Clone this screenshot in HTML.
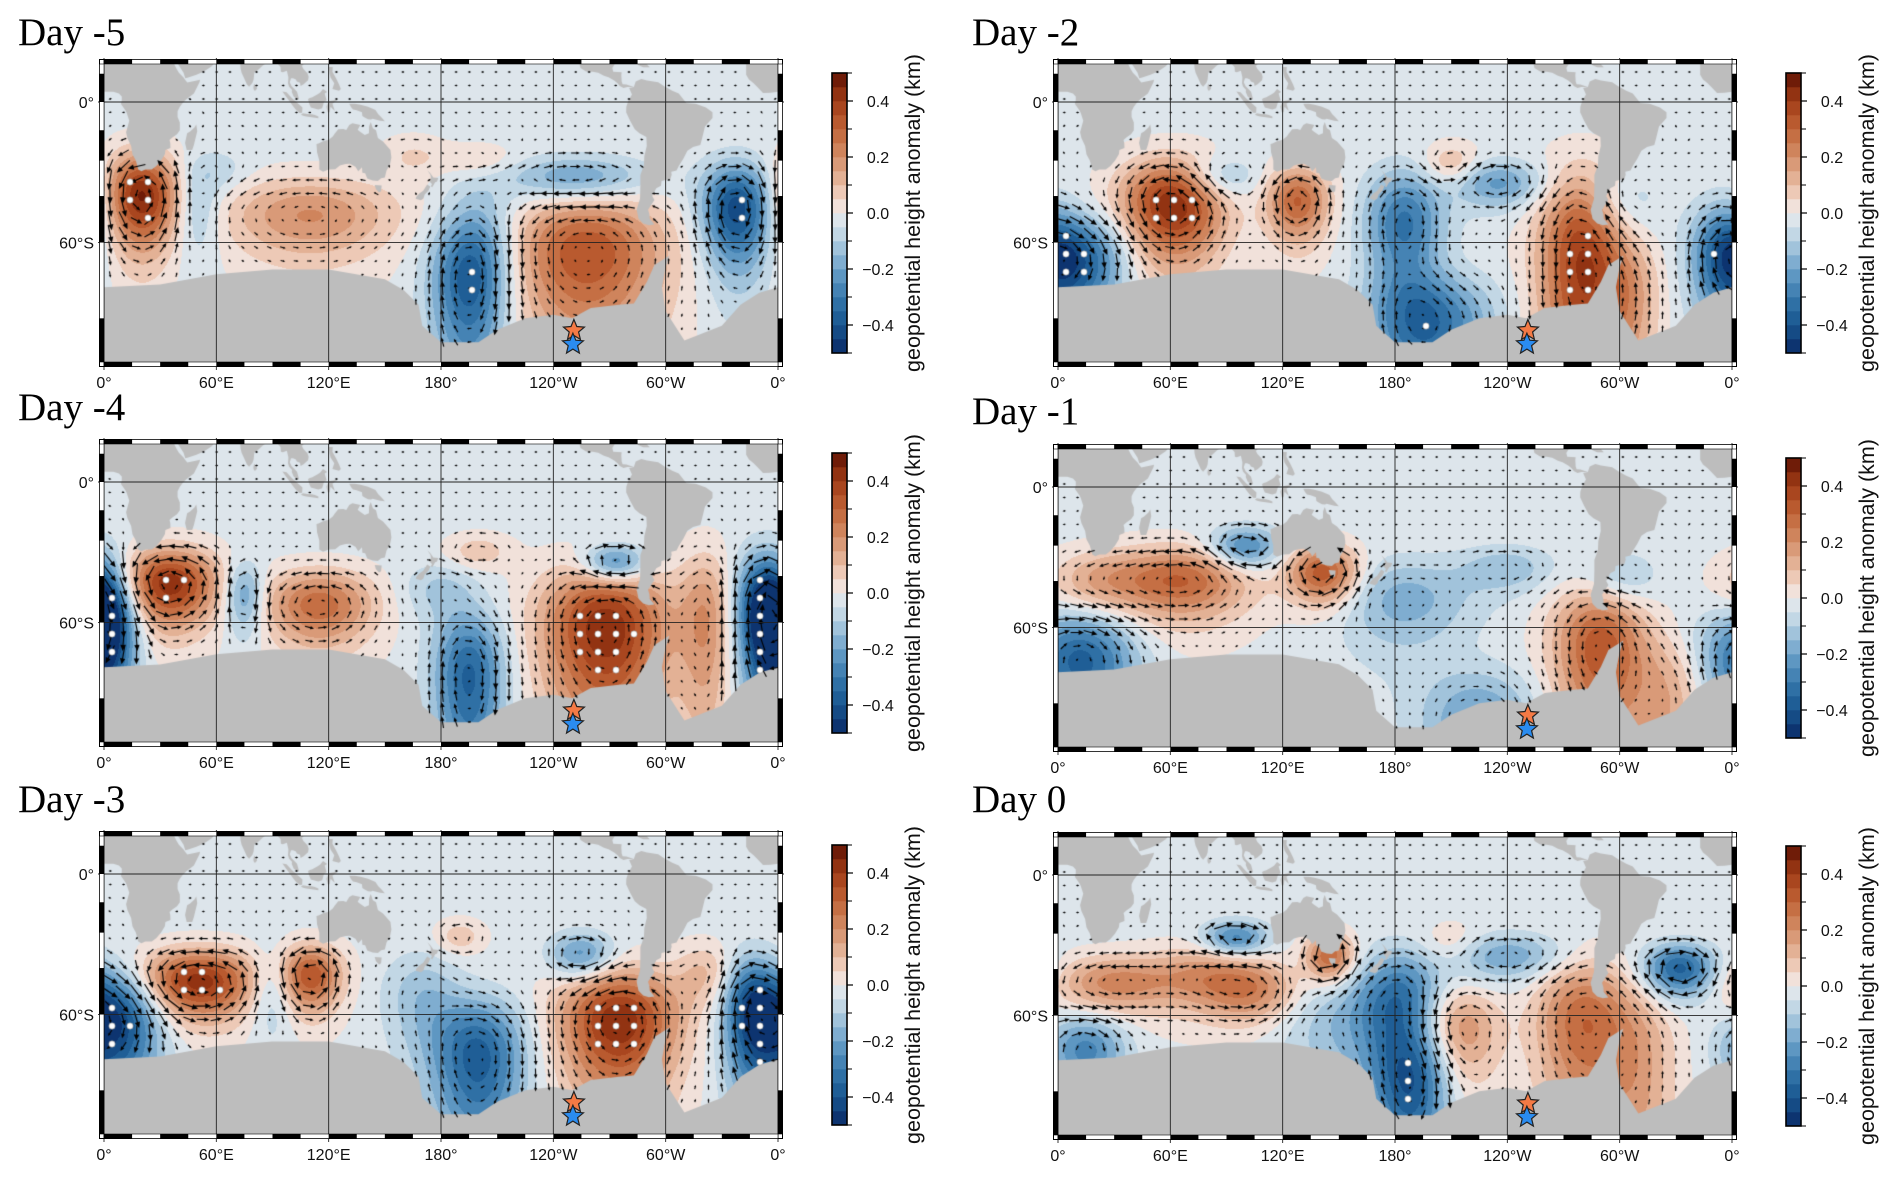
<!DOCTYPE html>
<html><head><meta charset="utf-8">
<style>
html,body{margin:0;padding:0;background:#fff;}
body{width:1892px;height:1177px;position:relative;overflow:hidden;}
#c,#s{position:absolute;left:0;top:0;}
</style></head>
<body>
<canvas id="c" width="1892" height="1177"></canvas>
<svg id="s" width="1892" height="1177" xmlns="http://www.w3.org/2000/svg"></svg>
<script>
// ---- data: anomaly centres [lon, lat, amplitude(km), spreadLon, spreadLat] ----
const blobsDayM5 = [[20,-45,0.47,9,9],[50,-50,-0.12,6,8],[110,-52,0.22,22,7],[195,-70,-0.32,10,7],[200,-57,-0.15,10,9],[258,-63,0.36,20,9],[252,-38,-0.2,18,5],[338,-50,-0.42,9,9],[165,-28,0.07,8,5],[200,-30,0.07,10,4],[60,-35,-0.07,8,5]];
const blobsDayM4 = [[35,-48,0.45,12,7],[0,-62,-0.4,8,8],[355,-55,-0.42,8,10],[75,-52,-0.22,5,6],[115,-55,0.3,14,6],[195,-72,-0.35,9,7],[268,-62,0.46,16,10],[273,-40,-0.3,8,4],[322,-60,0.2,7,12],[200,-35,0.1,8,4],[180,-50,-0.1,10,5]];
const blobsDayM3 = [[5,-62,-0.46,12,8],[50,-50,0.45,15,6],[90,-52,-0.15,6,7],[110,-48,0.36,8,6],[200,-70,-0.36,12,7],[275,-62,0.46,15,8],[255,-40,-0.22,8,5],[345,-58,-0.28,7,9],[322,-47,0.12,8,6],[190,-32,0.1,6,4],[170,-55,-0.12,10,8]];
const blobsDayM2 = [[62,-48,0.47,13,9],[128,-47,0.32,8,7],[210,-32,0.13,7,5],[185,-55,-0.3,10,10],[10,-65,-0.36,12,6],[85,-38,-0.16,10,5],[280,-65,0.42,11,14],[235,-40,-0.2,12,5],[200,-76,-0.3,15,4],[355,-62,-0.2,8,8],[300,-47,-0.1,10,6],[305,-72,0.15,8,6]];
const blobsDayM1 = [[65,-45,0.32,18,7],[100,-31,-0.26,9,5],[142,-42,0.36,9,6],[12,-68,-0.36,14,6],[185,-52,-0.16,18,8],[20,-45,0.12,12,6],[290,-65,0.36,12,9],[300,-45,-0.12,10,6],[225,-78,-0.2,15,4],[328,-75,0.16,10,6],[240,-40,-0.12,12,5]];
const blobsDay0 = [[30,-50,0.23,15,5],[80,-48,0.2,15,6],[105,-53,0.2,12,5],[95,-32,-0.26,8,4],[145,-40,0.32,6,5],[183,-55,-0.25,10,9],[190,-75,-0.3,10,5],[160,-62,-0.15,20,8],[215,-64,0.23,10,6],[280,-62,0.3,12,10],[310,-72,0.16,10,10],[240,-40,-0.18,15,5],[15,-68,-0.26,10,4],[210,-35,0.08,8,5],[332,-45,-0.36,9,5]];
// ---- colour scale ----
const cbLevels = [-0.5,-0.45,-0.4,-0.35,-0.3,-0.25,-0.2,-0.15,-0.1,-0.05,0,0.05,0.1,0.15,0.2,0.25,0.3,0.35,0.4,0.45,0.5];
const cbColors = ['#0d3470','#154b85','#1f5e96','#2f70a5','#4583b4','#5e97c2','#7fadd0','#a1c3db','#c2d7e5','#dde5eb','#f1e1da','#edc9b6','#e3b195','#d99a78','#cf845c','#c56f44','#b95a2f','#a9461f','#923312','#6f1c08'];
const cbTickValues = [0.4,0.2,0.0,-0.2,-0.4];
const cbTickLabels = ['0.4','0.2','0.0','\u22120.2','\u22120.4'];
const lonTicks = [0,60,120,180,240,300,360];
const lonLabels = ['0\u00b0','60\u00b0E','120\u00b0E','180\u00b0','120\u00b0W','60\u00b0W','0\u00b0'];
const latTicks = [0,-60];
const latLabels = ['0\u00b0','60\u00b0S'];
const starLon = 251, starLatOrange = -76.6, starLatBlue = -78.2;
const SPREAD_LON = 1.45, SPREAD_LAT = 1.35;

const panels = [
 {title:'Day -5', x0:104, eq:102, tb:45, cbx:832, blobs:blobsDayM5, key:'day-minus-5'},
 {title:'Day -4', x0:104, eq:482, tb:420, cbx:832, blobs:blobsDayM4, key:'day-minus-4'},
 {title:'Day -3', x0:104, eq:874, tb:812, cbx:832, blobs:blobsDayM3, key:'day-minus-3'},
 {title:'Day -2', x0:1058, eq:102, tb:45, cbx:1786, blobs:blobsDayM2, key:'day-minus-2'},
 {title:'Day -1', x0:1058, eq:487, tb:424, cbx:1786, blobs:blobsDayM1, key:'day-minus-1'},
 {title:'Day 0', x0:1058, eq:875, tb:812, cbx:1786, blobs:blobsDay0, key:'day-0'}
];

// ---- land (lon 0..360, lat) ----
const land = [
 [[0,20],[0,5.5],[5,5.5],[8,4.5],[9.5,3],[9.5,1],[9,-1],[11.5,-4.5],[12.2,-6],[13.5,-10],[11.8,-16],[12.5,-19],[14.5,-23],[15.2,-27],[17,-30],[18.3,-34],[20,-34.8],[22,-34],[25.5,-34],[28,-32.5],[30.5,-30],[32.5,-27],[32.8,-25],[35.5,-24],[35.4,-21.5],[35,-20],[36.5,-18.7],[39,-17],[40.5,-15],[40.5,-11],[39.3,-8],[39.3,-5],[40.5,-2.5],[42,-0.5],[44,1.5],[48,4.5],[51,10.5],[51.3,11.8],[49,11.3],[44.5,10.4],[43.3,11.8],[42.5,13],[40,15.5],[38.5,18],[37.5,20]],
 [[39.5,20],[42.5,15.5],[43.4,12.7],[45,13],[49,14.3],[52.2,15.7],[55,17.2],[57.7,19],[58.5,20]],
 [[68.5,20],[72.8,20],[72.9,18],[73.5,15.5],[74.8,12.8],[76.3,9.5],[77.5,8.1],[78.2,8.9],[79.3,10.3],[79.9,12],[80.3,15.6],[82.4,17],[84.8,19.2],[86,20]],
 [[79.8,8],[80.2,9.8],[81.2,8.5],[81.8,7.2],[80.6,5.9],[79.9,6.8]],
 [[92,20],[92.8,20],[94.3,18.5],[94.5,16],[95.5,15.8],[97.7,16.5],[98.5,13],[98.3,10],[98.8,8.3],[100.4,6.5],[100.3,5.3],[101.3,3],[103.4,1.3],[104.2,1.5],[103.5,4],[103.1,5.5],[101.8,6.8],[100.2,8.4],[99.2,10.5],[99.9,12.7],[101,12.7],[102.5,12],[103,11],[104.7,10.3],[105,8.6],[106.6,9.5],[109,11.6],[109.3,13.4],[108.7,15.3],[106.5,17.5],[105.7,19],[106.7,20]],
 [[95.3,5.6],[97.5,5.2],[100.3,2.2],[103.8,-1],[106,-3],[105.8,-5.8],[104.5,-5.9],[102.4,-4],[100.9,-2.2],[99.3,0.2],[97.2,2.9]],
 [[105.2,-6.8],[106.2,-6],[108.5,-6.4],[111,-6.5],[112.6,-6.9],[114.5,-7.8],[114.5,-8.7],[111,-8.2],[108,-7.8],[106.4,-7.4]],
 [[109,1.5],[109.6,-1],[110.5,-3],[114.5,-4],[116.5,-3.3],[117.5,0],[118.9,1],[117.8,4.5],[119.2,5.3],[117,7],[115.4,5],[113.9,4],[111.3,2.6],[109.6,2]],
 [[118.8,-2.6],[119.5,-5.5],[120.5,-5.5],[121,-2.5],[123.3,-4.8],[122,-1],[125,1.3],[120.5,0.5],[119.8,0]],
 [[120,18.5],[122.2,18.5],[122,16],[124,12.5],[125.5,9.5],[126.5,7],[125.5,6],[122,7],[123,10],[121,13],[120.5,15]],
 [[131,-1],[134,-1],[137,-1.5],[141,-2.6],[145,-4.3],[146.5,-6.5],[148,-8],[150,-10.3],[147.5,-10],[143.5,-9],[142.6,-9.3],[141,-9.2],[139,-8.1],[138,-7.5],[137.8,-5.5],[135,-4.4],[133,-4],[132,-2.8]],
 [[113.5,-22],[113.8,-26],[115,-30],[115,-34],[117,-35],[120,-34],[123.5,-33.9],[126,-32.3],[129,-31.6],[131.3,-31.5],[134.3,-32.8],[135.8,-34.8],[137.8,-33],[138,-35.5],[139.5,-35.7],[140.6,-38],[143.5,-38.8],[146.3,-39],[148,-37.8],[150,-37.5],[150.9,-34.5],[152.7,-32],[153.5,-28.5],[153,-25],[150.8,-22.6],[149,-20.8],[146.3,-19],[145.3,-15],[143.6,-14],[142.5,-10.7],[141.6,-12.9],[141.5,-16.5],[139.3,-17.5],[136.6,-15.7],[135.5,-14.7],[136.9,-12.2],[132.7,-11.4],[131,-12.2],[129.4,-14.9],[127.8,-14.3],[125.1,-14.5],[123.2,-16.8],[122.2,-18.2],[120,-19.8],[117,-20.6],[114.6,-21.8]],
 [[144.6,-40.7],[148.3,-40.9],[148,-43.2],[146.9,-43.6],[145.2,-42.3]],
 [[172.7,-34.4],[174.3,-35.7],[175.9,-37.5],[178.5,-37.7],[177.9,-39.2],[176.9,-39.5],[175.3,-41.6],[174.6,-41.2],[175.2,-40.2],[173.8,-39.2],[174.6,-38],[174.4,-36.5]],
 [[172.6,-40.5],[174.3,-41.3],[173.3,-43],[171.3,-44.4],[170.6,-45.9],[169.3,-46.6],[166.5,-46],[166.8,-45.3],[168.4,-44],[170.5,-43],[171.6,-41.7]],
 [[44.2,-25],[47.1,-25],[48,-22.5],[49.8,-15.5],[49.3,-12],[48.3,-13.5],[46,-15.7],[44.4,-16.5],[43.3,-21.5]],
 [[283,8],[280.5,7.5],[282,4],[280,0.5],[279,-2.5],[278.9,-5.5],[281,-10],[283.5,-14.5],[286,-16.5],[289.7,-18.5],[289.9,-23],[288.6,-28],[288.4,-32],[286.5,-36.5],[286.5,-41],[286.3,-46],[284.5,-50],[285.5,-53],[288,-54.5],[291,-55],[294,-54.8],[291.5,-53],[291.3,-51.5],[290.6,-50],[292.5,-48],[294,-46.5],[292.8,-45],[295,-42],[297.5,-41],[297.8,-39],[302.5,-38.2],[303.2,-36.3],[303,-35],[305.8,-34.5],[307,-32.5],[309.5,-29],[311.6,-25.3],[314.6,-23.5],[318.5,-22.5],[319.5,-19],[321,-13],[325,-8.5],[325,-5.5],[321.5,-3],[316,-1],[311,-0.5],[309,2],[307,4.5],[303.5,6],[299,8.5],[296,10.5],[290,11.5],[287,12.3],[284,11]],
 [[283,8],[279,9.3],[277,9.5],[276.5,11],[276.3,14.5],[276.5,15.8],[272,16],[271.5,18],[272.8,20],[254,20],[254.5,18],[257.5,16.2],[261,16],[264,15.5],[267,14],[269.5,13.2],[272.5,11.5],[274.3,10],[275.5,8.5],[277.5,7.5],[279.5,8]],
 [[285,20],[285.5,19.3],[288,18.3],[291.5,18.4],[290,19.8]],
 [[343,20],[343,14.5],[344.5,12],[347,10],[350,7],[352,4.8],[356,5],[358,5.2],[360,5.5],[360,20]],
 [[0,-70],[30,-69.5],[60,-67.5],[90,-66.5],[120,-66.5],[150,-68.5],[160,-70.5],[168,-73],[170,-76],[180,-78],[200,-78],[210,-76.5],[225,-75],[240,-74.5],[250,-75],[260,-73.5],[275,-73],[283,-72.8],[290,-69],[294,-65.5],[302,-63.3],[300,-66],[298,-70],[300,-74],[310,-77.8],[330,-76],[340,-73],[350,-71],[360,-70],[360,-86],[0,-86]]
];

const K = 106.7, W = 674, H = 298;
function merc(lat){return Math.log(Math.tan(Math.PI/4 + lat*Math.PI/360));}
function imerc(m){return (2*Math.atan(Math.exp(m)) - Math.PI/2)*180/Math.PI;}
function field(blobs, lon, lat){
  let s = 0;
  for (const b of blobs){
    const dl = ((lon - b[0] + 540) % 360) - 180;
    const dx = dl/(b[3]*SPREAD_LON), dy = (lat - b[1])/(b[4]*SPREAD_LAT);
    s += b[2]*Math.exp(-0.5*(dx*dx + dy*dy));
  }
  return s;
}
function hex(c){return [parseInt(c.slice(1,3),16),parseInt(c.slice(3,5),16),parseInt(c.slice(5,7),16)];}
const rgb = cbColors.map(hex);
function bin(v){
  let i = Math.floor((v - 0.015 + 0.5)/0.05);
  return Math.max(0, Math.min(19, i));
}

const ctx = document.getElementById('c').getContext('2d');
const svg = document.getElementById('s');
const NS = 'http://www.w3.org/2000/svg';
function mk(tag, attrs, parent){
  const e = document.createElementNS(NS, tag);
  for (const k in attrs) e.setAttribute(k, attrs[k]);
  (parent || svg).appendChild(e);
  return e;
}

panels.forEach(function(p){
  const top = p.eq - 38;
  const X = lon => p.x0 + lon/360*W;
  const Y = lat => p.eq - K*merc(lat);
  const g = document.createElementNS(NS, 'g');
  
  
  svg.appendChild(g);

  const img = ctx.createImageData(W, H);
  for (let py = 0; py < H; py++){
    const lat = imerc((p.eq - (top + py + 0.5))/K);
    for (let px = 0; px < W; px++){
      const lon = (px + 0.5)/W*360;
      const c = rgb[bin(field(p.blobs, lon, lat))];
      const o = (py*W + px)*4;
      img.data[o] = c[0]; img.data[o+1] = c[1]; img.data[o+2] = c[2]; img.data[o+3] = 255;
    }
  }
  ctx.putImageData(img, p.x0, top);

  const landPath = new Path2D();
  land.forEach(function(poly){
    poly.forEach(function(pt, i){
      const x = X(pt[0]), y = Math.min(Y(Math.max(pt[1], -85)), top + H + 5);
      if (i === 0) landPath.moveTo(x, y); else landPath.lineTo(x, y);
    });
    landPath.closePath();
  });
  ctx.save();
  ctx.beginPath(); ctx.rect(p.x0, top, W, H); ctx.clip();
  ctx.fillStyle = '#bdbdbd';
  ctx.fill(landPath);

  const val = (x, y) => field(p.blobs, (x - p.x0)/W*360, imerc((p.eq - y)/K));
  ctx.fillStyle = '#000'; ctx.strokeStyle = '#000'; ctx.lineWidth = 1.1;
  for (let y = top + 8; y < top + H - 2; y += 13.5){
    for (let x = p.x0 + 6; x < p.x0 + W - 3; x += 13.3){
      if (ctx.isPointInPath(landPath, x, y)) continue;
      const dzdx = (val(x+2, y) - val(x-2, y))/4;
      const dzdy = (val(x, y+2) - val(x, y-2))/4;
      let sx = -1700*dzdy, sy = 1700*dzdx;
      let L = Math.hypot(sx, sy);
      if (L < 3){ if (L < 0.01){ sx = -3; sy = 0; } else { sx *= 3/L; sy *= 3/L; } L = 3; }
      if (L > 20){ sx *= 20/L; sy *= 20/L; L = 20; }
      const ux = sx/L, uy = sy/L;
      const x1 = x - sx/2, y1 = y - sy/2, x2 = x + sx/2, y2 = y + sy/2;
      const hs = Math.max(2.2, Math.min(6, L*0.4));
      ctx.beginPath(); ctx.moveTo(x1, y1); ctx.lineTo(x2 - ux*hs*0.6, y2 - uy*hs*0.6); ctx.stroke();
      ctx.beginPath();
      ctx.moveTo(x2, y2);
      ctx.lineTo(x2 - ux*hs - uy*hs*0.45, y2 - uy*hs + ux*hs*0.45);
      ctx.lineTo(x2 - ux*hs + uy*hs*0.45, y2 - uy*hs - ux*hs*0.45);
      ctx.closePath(); ctx.fill();
    }
  }
  for (let y = top + 10; y < top + H; y += 18){
    for (let x = p.x0 + 8; x < p.x0 + W; x += 18){
      if (ctx.isPointInPath(landPath, x, y)) continue;
      if (Math.abs(val(x, y)) > 0.36){
        ctx.beginPath(); ctx.arc(x, y, 3.2, 0, Math.PI*2);
        ctx.fillStyle = '#fff'; ctx.fill();
        ctx.lineWidth = 0.5; ctx.strokeStyle = '#777'; ctx.stroke();
      }
    }
  }
  ctx.restore();

  lonTicks.forEach(function(lon, i){
    const l = mk('line', {x1:X(lon), x2:X(lon), y1:top-6, y2:top+H+8, stroke:'#222', 'stroke-width':0.9}, g);
    
    
    const t = mk('text', {x:X(lon), y:top+H+26, 'text-anchor':'middle', 'font-family':'Liberation Sans, Arial, sans-serif', 'font-size':16, fill:'#111'}, g);
    t.textContent = lonLabels[i];
    
    
  });
  latTicks.forEach(function(lat, i){
    const l = mk('line', {x1:p.x0-6, x2:p.x0+W+6, y1:Y(lat), y2:Y(lat), stroke:'#222', 'stroke-width':0.9}, g);
    
    
    const t = mk('text', {x:p.x0-10, y:Y(lat)+6, 'text-anchor':'end', 'font-family':'Liberation Sans, Arial, sans-serif', 'font-size':16, fill:'#111'}, g);
    t.textContent = latLabels[i];
    
    
  });

  const fr = document.createElementNS(NS, 'g');
  
  
  g.appendChild(fr);
  const bw = 4.5;
  mk('rect', {x:p.x0-bw, y:top-bw, width:W+2*bw, height:H+2*bw, fill:'none', stroke:'#000', 'stroke-width':1}, fr);
  [top-bw, top+H].forEach(function(by){
    mk('rect', {x:p.x0, y:by, width:W, height:bw, fill:'#fff', stroke:'#000', 'stroke-width':0.6}, fr);
    for (let lo = 0; lo < 360; lo += 30)
      mk('rect', {x:X(lo), y:by, width:X(lo+15)-X(lo), height:bw, fill:'#000'}, fr);
  });
  [p.x0-bw, p.x0+W].forEach(function(bx){
    mk('rect', {x:bx, y:top, width:bw, height:H, fill:'#fff', stroke:'#000', 'stroke-width':0.6}, fr);
    for (let la = 15; la > -90; la -= 30){
      const y1 = Math.max(top, Y(la)), y2 = Math.min(top+H, Y(la-15));
      if (y2 > y1) mk('rect', {x:bx, y:y1, width:bw, height:y2-y1, fill:'#000'}, fr);
    }
  });

  function star(cx, cy, r, fill, name){
    let pts = [];
    for (let k = 0; k < 10; k++){
      const a = -Math.PI/2 + k*Math.PI/5, rr = k%2 ? r*0.45 : r;
      pts.push((cx + rr*Math.cos(a)).toFixed(1) + ',' + (cy + rr*Math.sin(a)).toFixed(1));
    }
    const s = mk('polygon', {points:pts.join(' '), fill:fill, stroke:'#222', 'stroke-width':1.2}, g);
    
    
  }
  star(X(starLon), Y(starLatOrange), 11, '#f47a45', 'orange-star-marker');
  star(X(starLon)-1, Y(starLatBlue), 11, '#2a8cf0', 'blue-star-marker');

  const tt = mk('text', {x:p.x0-86, y:p.tb, 'font-family':'Liberation Serif, Times New Roman, serif', 'font-size':39, fill:'#000'}, g);
  tt.textContent = p.title;
  
  

  const cbTop = top + 9, cbH = 280, cbW = 15;
  const cb = document.createElementNS(NS, 'g');
  
  
  g.appendChild(cb);
  const CY = v => cbTop + (0.5 - v)*cbH;
  for (let i = 0; i < cbColors.length; i++){
    const r = mk('rect', {x:p.cbx, y:CY(cbLevels[i+1]), width:cbW, height:CY(cbLevels[i])-CY(cbLevels[i+1])+0.3, fill:cbColors[i]}, cb);
    
    
  }
  mk('rect', {x:p.cbx, y:cbTop, width:cbW, height:cbH, fill:'none', stroke:'#000', 'stroke-width':1.6}, cb);
  for (let v = -0.5; v <= 0.501; v += 0.1)
    mk('line', {x1:p.cbx+cbW, x2:p.cbx+cbW+5, y1:CY(v), y2:CY(v), stroke:'#000', 'stroke-width':1}, cb);
  cbTickValues.forEach(function(v, i){
    mk('line', {x1:p.cbx+cbW, x2:p.cbx+cbW+6, y1:CY(v), y2:CY(v), stroke:'#000', 'stroke-width':1.2}, cb);
    const t = mk('text', {x:p.cbx+cbW+31, y:CY(v)+6, 'text-anchor':'middle', 'font-family':'Liberation Sans, Arial, sans-serif', 'font-size':16, fill:'#111'}, cb);
    t.textContent = cbTickLabels[i];
    
    
  });
  const ct = mk('text', {x:0, y:0, transform:'translate(' + (p.cbx+88) + ',' + (cbTop+cbH/2) + ') rotate(-90)', 'text-anchor':'middle', 'font-family':'Liberation Sans, Arial, sans-serif', 'font-size':21.5, fill:'#111'}, cb);
  ct.textContent = 'geopotential height anomaly (km)';
  
  
});
</script>
</body></html>
